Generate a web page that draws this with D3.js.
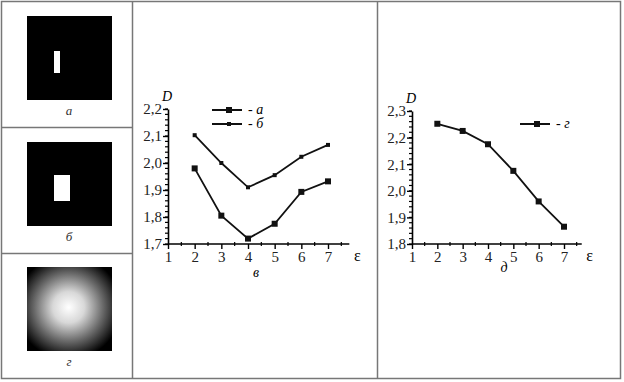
<!DOCTYPE html>
<html>
<head>
<meta charset="utf-8">
<script src="https://cdn.jsdelivr.net/npm/d3@7"></script>
<style>
  body { margin: 0; background: #fff; }
  svg { display: block; }
  svg text { font-family: "Liberation Serif", "Times New Roman", serif; }
  .domain { stroke-width: 1.6px; }
</style>
</head>
<body>
<div id="fig"></div>
<script>
// ---------- data ----------
const eps = [2, 3, 4, 5, 6, 7];
const seriesA = [1.98, 1.805, 1.72, 1.775, 1.893, 1.932];   // "- а"
const seriesB = [2.103, 2.0, 1.91, 1.955, 2.023, 2.067];    // "- б"
const seriesG = [2.252, 2.225, 2.175, 2.075, 1.96, 1.865];  // "- г"
const xTicks = [1, 2, 3, 4, 5, 6, 7];
const yTicksLeft = [1.7, 1.8, 1.9, 2.0, 2.1, 2.2];
const yTicksRight = [1.8, 1.9, 2.0, 2.1, 2.2, 2.3];

const W = 624, H = 382;
const svg = d3.select("#fig").append("svg").attr("width", W).attr("height", H);
const fmt = d => d3.format(".1f")(d).replace(".", ",");

/* ----------------------- table frame ----------------------- */
const frame = svg.append("g").attr("stroke", "#777").attr("stroke-width", 1.5).attr("fill", "none");
frame.append("rect").attr("x", 1.5).attr("y", 1.5).attr("width", 619).attr("height", 377);
frame.append("line").attr("x1", 132.5).attr("x2", 132.5).attr("y1", 1.5).attr("y2", 378.5);
frame.append("line").attr("x1", 377.5).attr("x2", 377.5).attr("y1", 1.5).attr("y2", 378.5);
frame.append("line").attr("x1", 1.5).attr("x2", 132.5).attr("y1", 127.5).attr("y2", 127.5);
frame.append("line").attr("x1", 1.5).attr("x2", 132.5).attr("y1", 253.5).attr("y2", 253.5);

/* ----------------------- left images ----------------------- */
const defs = svg.append("defs");
const grad = defs.append("radialGradient").attr("id", "glow")
  .attr("cx", 0.49).attr("cy", 0.48).attr("r", 0.62);
grad.append("stop").attr("offset", "0%").attr("stop-color", "#fff");
grad.append("stop").attr("offset", "30%").attr("stop-color", "#d8d8d8");
grad.append("stop").attr("offset", "65%").attr("stop-color", "#6a6a6a");
grad.append("stop").attr("offset", "100%").attr("stop-color", "#000");

const imgs = [
  { y: 16, label: "а", hole: { x: 54, y: 51, w: 6, h: 22 } },
  { y: 142, label: "б", hole: { x: 54, y: 175, w: 16, h: 26 } },
  { y: 267, label: "г", fill: "url(#glow)" }
];
imgs.forEach(p => {
  svg.append("rect").attr("x", 27).attr("y", p.y).attr("width", 85).attr("height", 84)
    .attr("fill", p.fill || "#000");
  if (p.hole) {
    svg.append("rect").attr("x", p.hole.x).attr("y", p.hole.y)
      .attr("width", p.hole.w).attr("height", p.hole.h).attr("fill", "#fff");
  }
  svg.append("text").attr("x", 69).attr("y", p.y + 99).attr("text-anchor", "middle")
    .attr("font-style", "italic").attr("font-size", 13).attr("fill", "#333").text(p.label);
});

/* ----------------------- chart helper ----------------------- */
function drawChart(opt) {
  const x = d3.scaleLinear().domain([1, 7]).range([opt.x0, opt.x7]);
  const y = d3.scaleLinear().domain(opt.yDomain).range([opt.yBottom, opt.yTop]);
  const g = svg.append("g");

  // minor ticks
  const xMinor = d3.range(1.5, opt.xEnd, 0.5).filter(v => !xTicks.includes(v));
  g.selectAll(".xm").data(xMinor).enter().append("line")
    .attr("x1", d => x(d)).attr("x2", d => x(d))
    .attr("y1", opt.yBottom - 2).attr("y2", opt.yBottom + 2)
    .attr("stroke", "#000").attr("stroke-width", 1.2);
  const yMinor = d3.range(opt.yDomain[0], opt.yDomain[1] + 1e-6, 0.02);
  g.selectAll(".ym").data(yMinor).enter().append("line")
    .attr("x1", opt.x0 - 3).attr("x2", opt.x0)
    .attr("y1", d => y(d)).attr("y2", d => y(d))
    .attr("stroke", "#000").attr("stroke-width", 1.2);

  const xAxis = d3.axisBottom(x).tickValues(xTicks).tickFormat(d3.format("d"))
    .tickSize(5).tickSizeOuter(0).tickPadding(2);
  const xg = g.append("g").attr("transform", `translate(0,${opt.yBottom})`).call(xAxis)
    .attr("font-family", null).attr("font-size", 15);
  xg.select(".domain").attr("d", `M${x(1)},0H${x(opt.xEnd)}`);

  const yAxis = d3.axisLeft(y).tickValues(opt.yTicks).tickFormat(fmt)
    .tickSize(5).tickSizeOuter(0).tickPadding(1);
  g.append("g").attr("transform", `translate(${opt.x0},0)`).call(yAxis)
    .attr("font-family", null).attr("font-size", 15);
  g.selectAll(".tick line").attr("stroke-width", 1.4);
  g.selectAll(".tick text").attr("fill", "#222");

  g.append("text").attr("x", opt.x0 - 1).attr("y", opt.yTop - 8)
    .attr("font-style", "italic").attr("font-size", 14).attr("text-anchor", "middle").text("D");
  g.append("text").attr("x", x(opt.xEnd) + 8).attr("y", opt.yBottom + 17)
    .attr("font-size", 16).attr("text-anchor", "middle").text("ε");
  g.append("text").attr("x", opt.capX).attr("y", opt.capY)
    .attr("font-style", "italic").attr("font-size", 14).attr("text-anchor", "middle").text(opt.caption);

  const line = d3.line().x((d, i) => x(eps[i])).y(d => y(d));
  opt.series.forEach(s => {
    g.append("path").datum(s.values).attr("d", line)
      .attr("fill", "none").attr("stroke", "#111").attr("stroke-width", 1.8);
    g.selectAll(null).data(s.values).enter().append("rect")
      .attr("x", (d, i) => x(eps[i]) - s.size / 2).attr("y", d => y(d) - s.size / 2)
      .attr("width", s.size).attr("height", s.size).attr("fill", "#111");
    // legend
    const ly = s.legendY;
    g.append("line").attr("x1", s.legendX).attr("x2", s.legendX + 30)
      .attr("y1", ly).attr("y2", ly).attr("stroke", "#111").attr("stroke-width", 2);
    g.append("rect").attr("x", s.legendX + 17 - s.size / 2).attr("y", ly - s.size / 2)
      .attr("width", s.size).attr("height", s.size).attr("fill", "#111");
    g.append("text").attr("x", s.legendX + 36).attr("y", ly + 4)
      .attr("font-style", "italic").attr("font-size", 14).text("- " + s.name);
  });
}

drawChart({
  x0: 168, x7: 328, xEnd: 7.8, yTop: 109, yBottom: 244,
  yDomain: [1.7, 2.2], yTicks: yTicksLeft,
  caption: "в", capX: 256, capY: 277,
  series: [
    { name: "а", values: seriesA, size: 6, legendX: 212, legendY: 110 },
    { name: "б", values: seriesB, size: 4, legendX: 212, legendY: 124 }
  ]
});

drawChart({
  x0: 412, x7: 564, xEnd: 7.7, yTop: 111, yBottom: 244,
  yDomain: [1.8, 2.3], yTicks: yTicksRight,
  caption: "д", capX: 504, capY: 272,
  series: [
    { name: "г", values: seriesG, size: 6, legendX: 520, legendY: 124 }
  ]
});
</script>
</body>
</html>
